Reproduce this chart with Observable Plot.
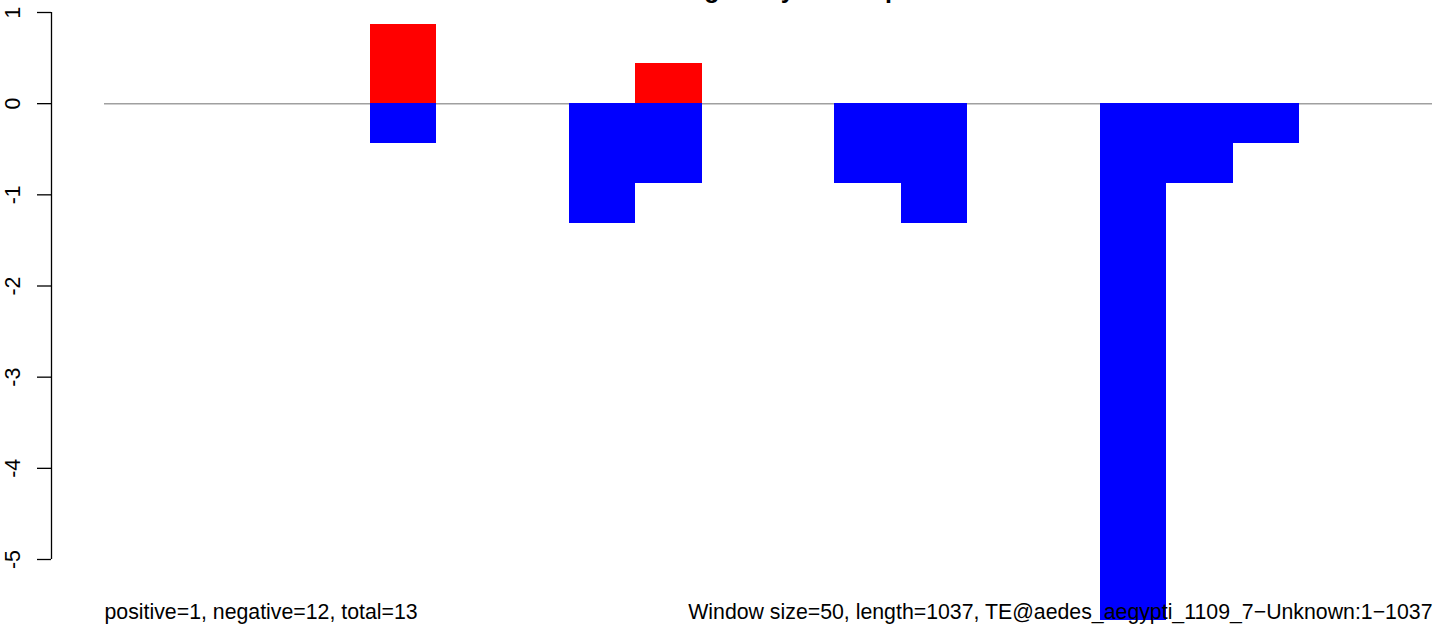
<!DOCTYPE html>
<html><head><meta charset="utf-8">
<script src="https://cdn.jsdelivr.net/npm/d3@7"></script>
<script src="https://cdn.jsdelivr.net/npm/@observablehq/plot@0.6"></script>
<style>
body{margin:0;background:#fff;}
#wrap{position:relative;width:1444px;height:629px;overflow:hidden;background:#fff;}
#title{position:absolute;left:571px;top:-23px;font:bold 25px "Liberation Sans",Arial,sans-serif;line-height:25px;white-space:nowrap;color:#000;}
</style></head><body>
<div id="wrap"></div>
<script>
const titleText = "Reads along TE by strand per window";
const windowSize = 50;
const posStarts = [200, 400];
const posValues = [0.872, 0.436];
const negStarts = [200, 350, 400, 550, 600, 750, 800, 850];
const negValues = [-0.436, -1.31, -0.872, -0.872, -1.31, -5.67, -0.872, -0.436];
const yTicks = [1, 0, -1, -2, -3, -4, -5];
const yTickLabels = ["1", "0", "-1", "-2", "-3", "-4", "-5"];
const xDomain = [0, 1000];
const leftNote = "positive=1, negative=12, total=13";
const rightNote = "Window size=50, length=1037, TE@aedes_aegypti_1109_7\u2212Unknown:1\u22121037";

const posData = posStarts.map((s, i) => ({x1: s, x2: s + windowSize, y: posValues[i]}));
const negData = negStarts.map((s, i) => ({x1: s, x2: s + windowSize, y: negValues[i]}));

const chart = Plot.plot({
  width: 1444,
  height: 629,
  marginLeft: 104,
  marginRight: 12,
  marginTop: 12,
  marginBottom: 70,
  style: {fontFamily: "'Liberation Sans', Arial, sans-serif", fontSize: "21px", background: "white", color: "black"},
  x: {domain: xDomain, axis: null},
  y: {domain: [yTicks[yTicks.length - 1], yTicks[0]], axis: null},
  marks: [
    Plot.ruleY([0], {x1: xDomain[0], x2: xDomain[1], stroke: "#a0a0a0", strokeWidth: 1.5}),
    Plot.rectY(posData, {x1: "x1", x2: "x2", y: "y", fill: "#ff0000", shapeRendering: "crispEdges"}),
    Plot.rectY(negData, {x1: "x1", x2: "x2", y: "y", fill: "#0000ff", shapeRendering: "crispEdges"}),
    Plot.axisY({ticks: yTicks, tickSize: 14, dx: -53, tickFormat: () => "", label: null, strokeWidth: 1.3, stroke: "black"}),
    Plot.ruleX([xDomain[0]], {y1: yTicks[yTicks.length - 1], y2: yTicks[0], dx: -53, stroke: "black", strokeWidth: 1.3}),
    Plot.text(yTicks, {y: d => d, text: (d, i) => yTickLabels[i], frameAnchor: "left", rotate: -90, textAnchor: "middle", lineAnchor: "middle", dx: -91, fontSize: 21.3, fill: "black"}),
    Plot.text([leftNote], {text: d => d, frameAnchor: "bottom-left", textAnchor: "start", lineAnchor: "middle", dy: 52.5, fontSize: 21.3, fill: "black"}),
    Plot.text([rightNote], {text: d => d, frameAnchor: "bottom-right", textAnchor: "end", lineAnchor: "middle", dy: 52.5, fontSize: 21.3, fill: "black"})
  ]
});
const wrap = document.getElementById("wrap");
wrap.appendChild(chart);
const t = document.createElement("div");
t.id = "title";
t.textContent = titleText;
wrap.appendChild(t);
</script>
</body></html>
